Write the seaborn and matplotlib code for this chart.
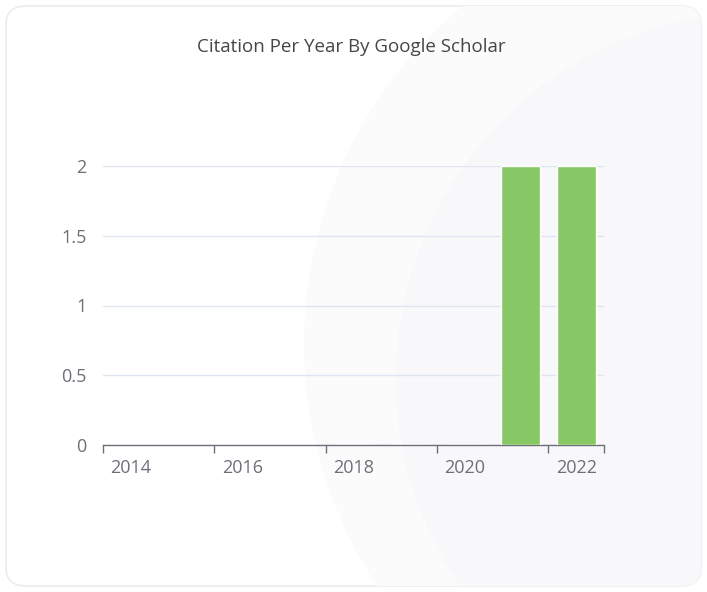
import matplotlib
matplotlib.use("Agg")
import matplotlib.pyplot as plt
from matplotlib.patches import FancyBboxPatch, Circle
import seaborn as sns
import pandas as pd

# Data
years = ["2014", "2015", "2016", "2017", "2018", "2019", "2020", "2021", "2022"]
citations = [0, 0, 0, 0, 0, 0, 0, 2, 2]
y_ticks = [0, 0.5, 1, 1.5, 2]
y_tick_labels = ["0", "0.5", "1", "1.5", "2"]

df = pd.DataFrame({"year": years, "citations": citations})

sns.set_theme(style="white")
plt.rcParams["font.family"] = ["Open Sans", "DejaVu Sans"]

fig = plt.figure(figsize=(7.07, 5.92), dpi=100)
fig.patch.set_facecolor("white")

# card background with faint decorative arcs
card = FancyBboxPatch((6 / 707, 6 / 592), 695 / 707, 580 / 592,
                      boxstyle="round,pad=0,rounding_size=0.03",
                      transform=fig.transFigure, facecolor="white",
                      edgecolor="#ececec", linewidth=1.2, zorder=0)
fig.patches.append(card)
for cx, cy, r, c in [(1.05, 0.42, 0.62, "#fbfbfc"), (1.08, 0.36, 0.52, "#f8f8fa")]:
    circ = Circle((cx * 707, cy * 592), r * 707, transform=None,
                  facecolor=c, edgecolor="none", zorder=0.5)
    circ.set_clip_path(card)
    fig.patches.append(circ)

ax = fig.add_axes([103 / 707, 147 / 592, 501 / 707, 279 / 592])
ax.set_zorder(2)
ax.patch.set_alpha(0)

sns.barplot(data=df, x="year", y="citations", color="#88c766", saturation=1,
            width=0.7, ax=ax, zorder=3)

ax.set_xlim(-0.5, len(years) - 0.5)
ax.set_ylim(0, 2)
ax.set_yticks(y_ticks)
ax.set_yticklabels(y_tick_labels)
ax.yaxis.grid(True, color="#e0e6f1", linewidth=1)
ax.set_axisbelow(True)

label_pos = list(range(0, len(years), 2))
ax.set_xticks(label_pos)
ax.set_xticklabels([years[i] for i in label_pos])
ax.set_xticks([-0.5, 1.5, 3.5, 5.5, 7.5, 8.5], minor=True)
ax.tick_params(axis="x", which="major", bottom=True, length=0, pad=10, labelsize=13, colors="#6e7079")
ax.tick_params(axis="x", which="minor", bottom=True, length=6, width=1, color="#6e7079", direction="out")
ax.tick_params(axis="y", length=0, pad=12, labelsize=13, colors="#6e7079")

for s in ["top", "right", "left"]:
    ax.spines[s].set_visible(False)
ax.spines["bottom"].set_color("#6e7079")
ax.spines["bottom"].set_linewidth(1)
ax.set_xlabel("")
ax.set_ylabel("")

fig.text(0.497, 0.921, "Citation Per Year By Google Scholar", ha="center", va="center",
         fontsize=13.5, color="#464646")

fig.savefig("out.png", dpi=100)
